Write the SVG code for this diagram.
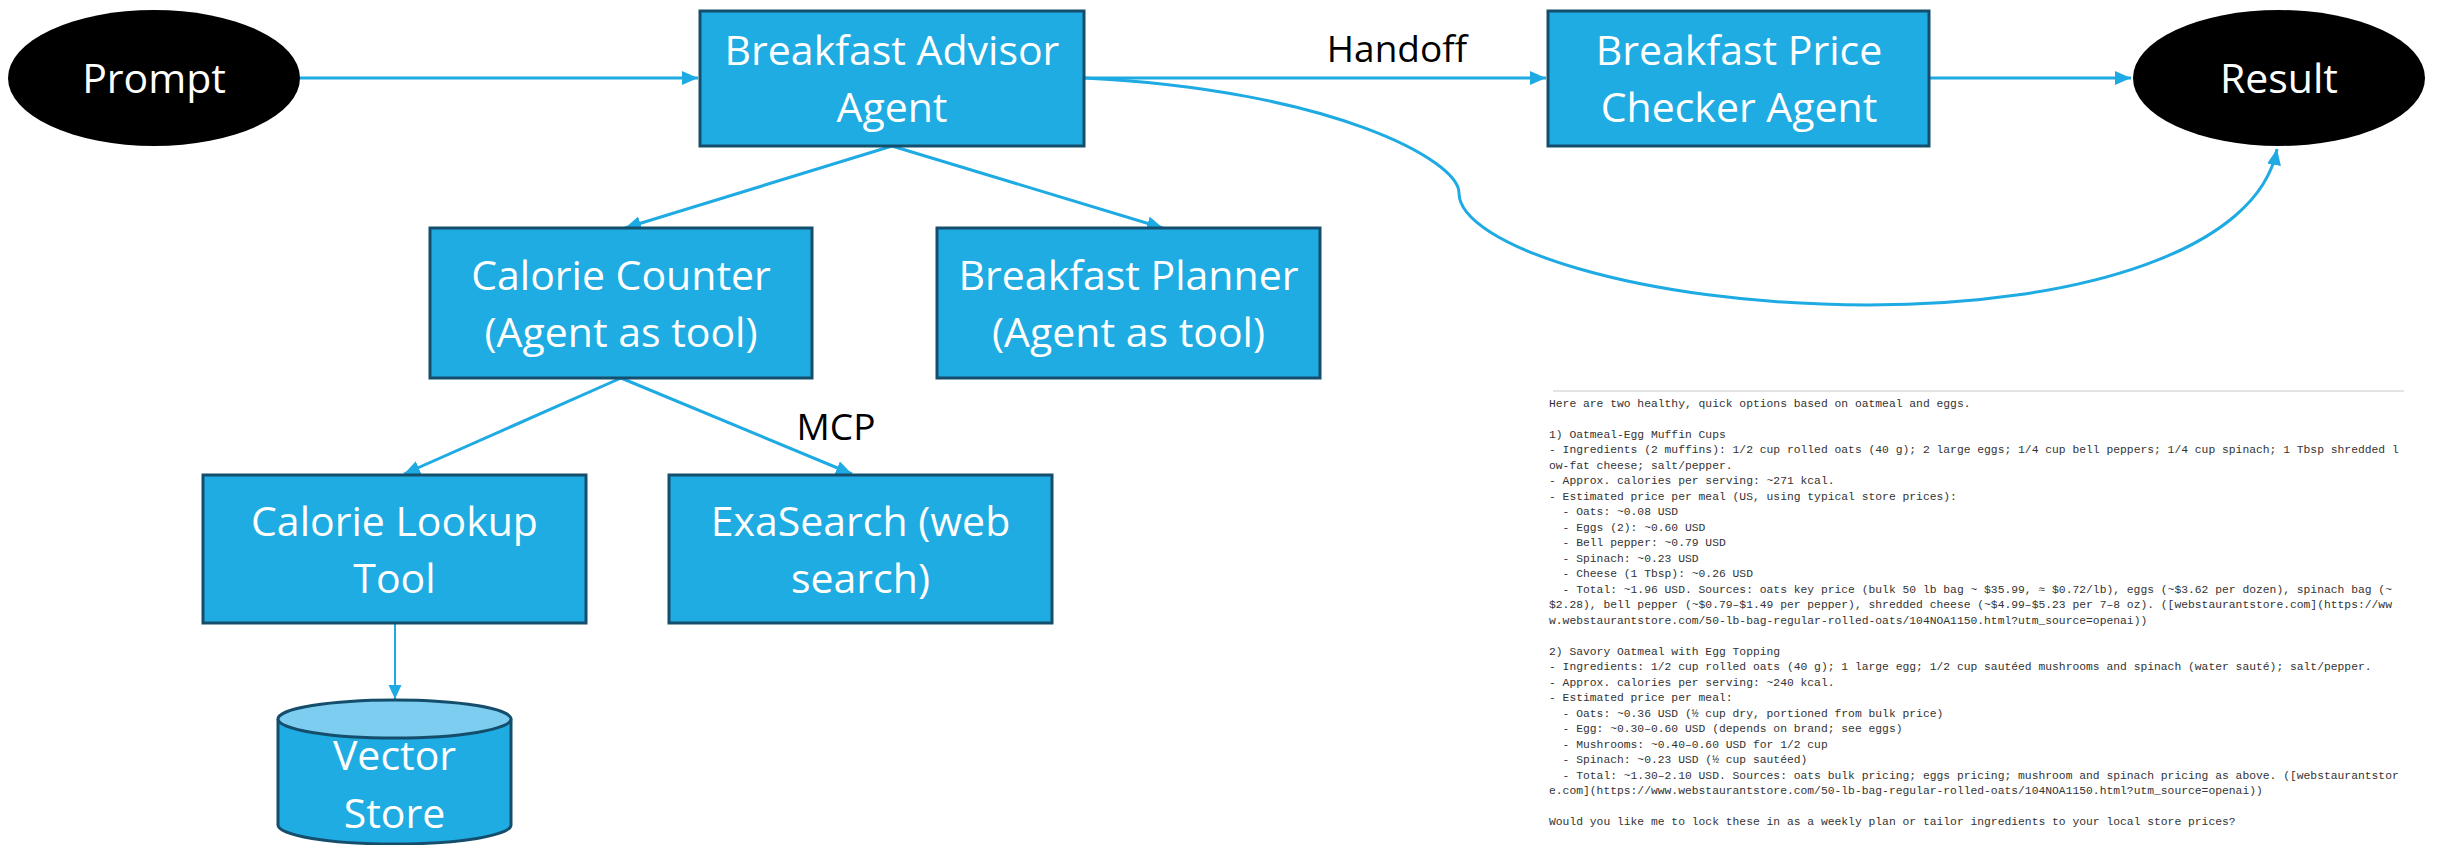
<svg xmlns="http://www.w3.org/2000/svg" width="2440" height="845" viewBox="0 0 2440 845">
<style>
.box{fill:#1eace2;stroke:#154e6c;stroke-width:3}
.term{fill:#000}
.bt{font-family:"Open Sans","Noto Sans","Liberation Sans",sans-serif;font-size:41px;fill:#fff;text-anchor:middle}
.lbl{font-family:"Open Sans","Noto Sans","Liberation Sans",sans-serif;font-size:37px;fill:#000;text-anchor:middle}
.edge{fill:none;stroke:#1eaae2;stroke-width:3}
.edge2{fill:none;stroke:#1eaae2;stroke-width:2}
.mono{font-family:"Liberation Mono","DejaVu Sans Mono",monospace;font-size:11.33px;fill:#333}
</style>
<defs>
<marker id="ah" markerUnits="userSpaceOnUse" markerWidth="18" markerHeight="16" refX="16" refY="7" orient="auto">
<path d="M0,0 L16,7 L0,14 z" fill="#1eaae2"/>
</marker>
<marker id="ahs" markerUnits="userSpaceOnUse" markerWidth="16" markerHeight="14" refX="14" refY="6.5" orient="auto">
<path d="M0,0 L14,6.5 L0,13 z" fill="#1eaae2"/>
</marker>
</defs>
<rect width="2440" height="845" fill="#fff"/>

<g id="connectors">
<path class="edge" d="M300,78 L698,78" marker-end="url(#ah)"/>
<path class="edge" d="M1084,78 L1546,78" marker-end="url(#ah)"/>
<path class="edge" d="M1929,78 L2131,78" marker-end="url(#ah)"/>
<path class="edge" d="M1084,78 C1330,90 1459,160 1459,193 C1459,245 1640,305 1868,305 C2080,305 2258,250 2277,149" marker-end="url(#ah)"/>
<path class="edge" d="M892,146 L625,228" marker-end="url(#ah)"/>
<path class="edge" d="M892,146 L1163,228" marker-end="url(#ah)"/>
<path class="edge" d="M621,378 L404,474" marker-end="url(#ah)"/>
<path class="edge" d="M621,378 L852,474" marker-end="url(#ah)"/>
<path class="edge2" d="M395,623 L395,699" marker-end="url(#ahs)"/>
<text class="lbl" x="1397" y="62">Handoff</text>
<text class="lbl" x="836" y="440">MCP</text>
</g>

<g id="prompt">
<ellipse class="term" cx="154" cy="78" rx="146" ry="68"/>
<text class="bt" x="154" y="93">Prompt</text>
</g>
<g id="result">
<ellipse class="term" cx="2279" cy="78" rx="146" ry="68"/>
<text class="bt" x="2279" y="93">Result</text>
</g>
<g id="advisor">
<rect class="box" x="700" y="11" width="384" height="135"/>
<text class="bt" x="892" y="65">Breakfast Advisor</text>
<text class="bt" x="892" y="122">Agent</text>
</g>
<g id="price-checker">
<rect class="box" x="1548" y="11" width="381" height="135"/>
<text class="bt" x="1739" y="65">Breakfast Price</text>
<text class="bt" x="1739" y="122">Checker Agent</text>
</g>
<g id="calorie-counter">
<rect class="box" x="430" y="228" width="382" height="150"/>
<text class="bt" x="621" y="290">Calorie Counter</text>
<text class="bt" x="621" y="347">(Agent as tool)</text>
</g>
<g id="planner">
<rect class="box" x="937" y="228" width="383" height="150"/>
<text class="bt" x="1128.5" y="290">Breakfast Planner</text>
<text class="bt" x="1128.5" y="347">(Agent as tool)</text>
</g>
<g id="calorie-lookup">
<rect class="box" x="203" y="475" width="383" height="148"/>
<text class="bt" x="394.5" y="536">Calorie Lookup</text>
<text class="bt" x="394.5" y="593">Tool</text>
</g>
<g id="exasearch">
<rect class="box" x="669" y="475" width="383" height="148"/>
<text class="bt" x="860.5" y="536">ExaSearch (web</text>
<text class="bt" x="860.5" y="593">search)</text>
</g>
<g id="vector-store">
<path d="M278,719 L278,825 A116.5,19 0 0 0 511,825 L511,719" fill="#1eace2" stroke="#154e6c" stroke-width="3"/>
<ellipse cx="394.5" cy="719" rx="116.5" ry="19" fill="#7ccdf0" stroke="#154e6c" stroke-width="3"/>
<text class="bt" x="394.5" y="770">Vector</text>
<text class="bt" x="394.5" y="828">Store</text>
</g>

<g id="output-text">
<line x1="1553" y1="391" x2="2404" y2="391" stroke="#e3e3e3" stroke-width="2"/>
<text class="mono" x="1549" y="406.7">Here are two healthy, quick options based on oatmeal and eggs.</text>
<text class="mono" x="1549" y="437.7">1) Oatmeal-Egg Muffin Cups</text>
<text class="mono" x="1549" y="453.2">- Ingredients (2 muffins): 1/2 cup rolled oats (40 g); 2 large eggs; 1/4 cup bell peppers; 1/4 cup spinach; 1 Tbsp shredded l</text>
<text class="mono" x="1549" y="468.7">ow-fat cheese; salt/pepper.</text>
<text class="mono" x="1549" y="484.2">- Approx. calories per serving: ~271 kcal.</text>
<text class="mono" x="1549" y="499.7">- Estimated price per meal (US, using typical store prices):</text>
<text class="mono" x="1562.6" y="515.2">- Oats: ~0.08 USD</text>
<text class="mono" x="1562.6" y="530.7">- Eggs (2): ~0.60 USD</text>
<text class="mono" x="1562.6" y="546.2">- Bell pepper: ~0.79 USD</text>
<text class="mono" x="1562.6" y="561.7">- Spinach: ~0.23 USD</text>
<text class="mono" x="1562.6" y="577.2">- Cheese (1 Tbsp): ~0.26 USD</text>
<text class="mono" x="1562.6" y="592.7">- Total: ~1.96 USD. Sources: oats key price (bulk 50 lb bag ~ $35.99, ≈ $0.72/lb), eggs (~$3.62 per dozen), spinach bag (~</text>
<text class="mono" x="1549" y="608.2">$2.28), bell pepper (~$0.79–$1.49 per pepper), shredded cheese (~$4.99–$5.23 per 7–8 oz). ([webstaurantstore.com](https://ww</text>
<text class="mono" x="1549" y="623.7">w.webstaurantstore.com/50-lb-bag-regular-rolled-oats/104NOA1150.html?utm_source=openai))</text>
<text class="mono" x="1549" y="654.7">2) Savory Oatmeal with Egg Topping</text>
<text class="mono" x="1549" y="670.2">- Ingredients: 1/2 cup rolled oats (40 g); 1 large egg; 1/2 cup sautéed mushrooms and spinach (water sauté); salt/pepper.</text>
<text class="mono" x="1549" y="685.7">- Approx. calories per serving: ~240 kcal.</text>
<text class="mono" x="1549" y="701.2">- Estimated price per meal:</text>
<text class="mono" x="1562.6" y="716.7">- Oats: ~0.36 USD (½ cup dry, portioned from bulk price)</text>
<text class="mono" x="1562.6" y="732.2">- Egg: ~0.30–0.60 USD (depends on brand; see eggs)</text>
<text class="mono" x="1562.6" y="747.7">- Mushrooms: ~0.40–0.60 USD for 1/2 cup</text>
<text class="mono" x="1562.6" y="763.2">- Spinach: ~0.23 USD (½ cup sautéed)</text>
<text class="mono" x="1562.6" y="778.7">- Total: ~1.30–2.10 USD. Sources: oats bulk pricing; eggs pricing; mushroom and spinach pricing as above. ([webstaurantstor</text>
<text class="mono" x="1549" y="794.2">e.com](https://www.webstaurantstore.com/50-lb-bag-regular-rolled-oats/104NOA1150.html?utm_source=openai))</text>
<text class="mono" x="1549" y="825.2">Would you like me to lock these in as a weekly plan or tailor ingredients to your local store prices?</text>
</g>
</svg>
